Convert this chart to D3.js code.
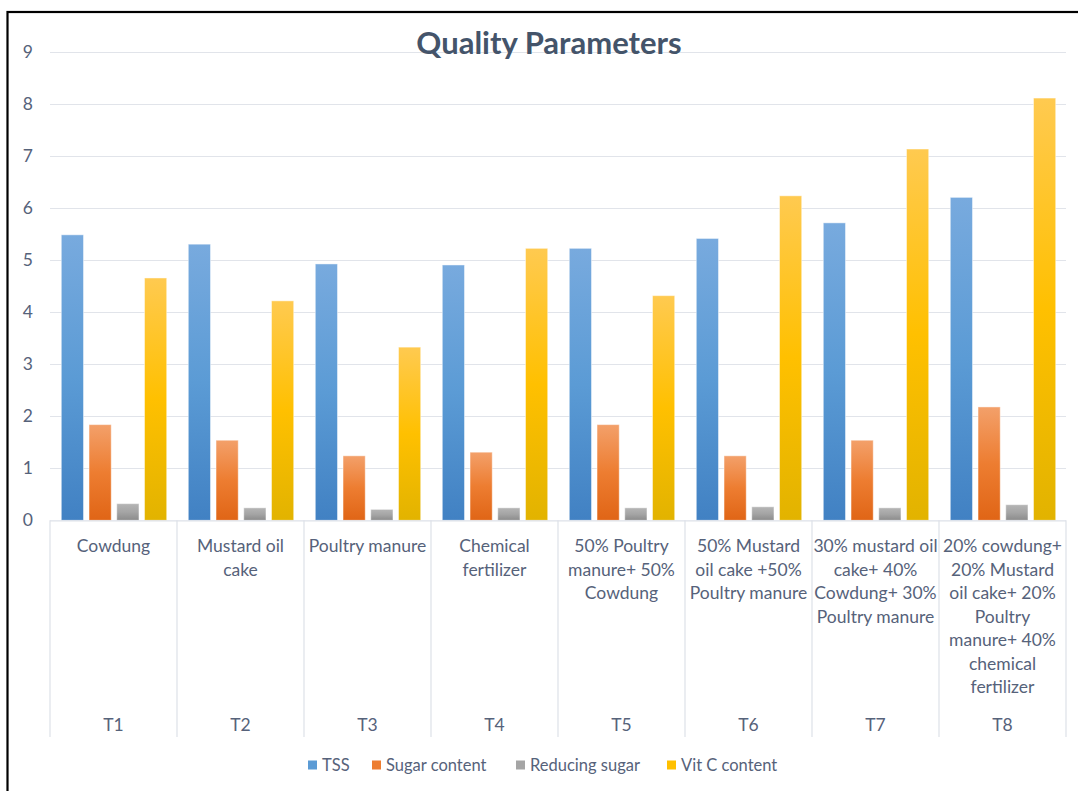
<!DOCTYPE html>
<html>
<head>
<meta charset="utf-8">
<script src="https://cdn.jsdelivr.net/npm/d3@7"></script>
<style>
  body { margin: 0; background: #fff; }
  svg { display: block; font-family: Lato, 'Liberation Sans', sans-serif; }
</style>
</head>
<body>
<div id="chart"></div>
<script>
// data
const groups = ['T1', 'T2', 'T3', 'T4', 'T5', 'T6', 'T7', 'T8']
const treatments = [
  ['Cowdung'],
  ['Mustard oil', 'cake'],
  ['Poultry manure'],
  ['Chemical', 'fertilizer'],
  ['50% Poultry', 'manure+ 50%', 'Cowdung'],
  ['50% Mustard', 'oil cake +50%', 'Poultry manure'],
  ['30% mustard oil', 'cake+ 40%', 'Cowdung+ 30%', 'Poultry manure'],
  ['20% cowdung+', '20% Mustard', 'oil cake+ 20%', 'Poultry', 'manure+ 40%', 'chemical', 'fertilizer']
]
const seriesNames = ['TSS', 'Sugar content', 'Reducing sugar', 'Vit C content']
const tss = [5.49, 5.31, 4.93, 4.91, 5.23, 5.42, 5.72, 6.21]
const sugar = [1.84, 1.54, 1.24, 1.31, 1.84, 1.24, 1.54, 2.18]
const reducing = [0.32, 0.24, 0.21, 0.24, 0.24, 0.26, 0.24, 0.30]
const vitC = [4.66, 4.22, 3.33, 5.23, 4.32, 6.24, 7.14, 8.12]
const yTicks = [0, 1, 2, 3, 4, 5, 6, 7, 8, 9]

const seriesValues = [tss, sugar, reducing, vitC]
const colors = [
  ['#78aade', '#5b9bd5', '#4181c3'],
  ['#f3a06a', '#ed7d31', '#e06516'],
  ['#b5b5b5', '#a5a5a5', '#8b8b8b'],
  ['#ffca50', '#ffc000', '#e2b300']
]
const textColor = '#56627a'

const W = 1078
const H = 791
const plot = { left: 50, right: 1066, top: 52.3, bottom: 520.3 }

const svg = d3.select('#chart')
  .append('svg')
  .attr('width', W)
  .attr('height', H)

// gradients for the bars
const defs = svg.append('defs')
colors.forEach(function (c, i) {
  const g = defs.append('linearGradient')
    .attr('id', 'grad' + i)
    .attr('x1', 0).attr('y1', 0).attr('x2', 0).attr('y2', 1)
  g.append('stop').attr('offset', '0%').attr('stop-color', c[0])
  g.append('stop').attr('offset', '50%').attr('stop-color', c[1])
  g.append('stop').attr('offset', '100%').attr('stop-color', c[2])
})

// outer frame
svg.append('rect')
  .attr('x', 7.5).attr('y', 12)
  .attr('width', 1100).attr('height', 800)
  .attr('fill', '#fff')
  .attr('stroke', '#000')
  .attr('stroke-width', 2.2)

// scales
const y = d3.scaleLinear().domain([0, 9]).range([plot.bottom, plot.top])
const x0 = d3.scaleBand().domain(groups).range([plot.left, plot.right]).padding(0)
const x1 = d3.scaleBand().domain(seriesNames).range([11.3, 116.7]).paddingInner(0.2)

// gridlines
svg.append('g')
  .selectAll('line')
  .data(yTicks.slice(1))
  .enter()
  .append('line')
  .attr('x1', plot.left).attr('x2', plot.right)
  .attr('y1', function (d) { return Math.round(y(d)) + 0.5 })
  .attr('y2', function (d) { return Math.round(y(d)) + 0.5 })
  .attr('stroke', '#e1e4ea')
  .attr('stroke-width', 1.2)

// y axis labels
const yAxis = svg.append('g')
  .attr('transform', 'translate(' + (plot.left - 17) + ',0)')
  .call(d3.axisLeft(y).tickValues(yTicks).tickSize(0).tickPadding(0).tickFormat(d3.format('d')))
yAxis.select('.domain').remove()
yAxis.selectAll('text')
  .attr('fill', textColor)
  .style('font-size', '17.5px')
  .style('font-family', 'Lato, sans-serif')

// title
svg.append('text')
  .attr('x', 549)
  .attr('y', 54)
  .attr('text-anchor', 'middle')
  .attr('fill', '#44546a')
  .style('font-size', '31px')
  .style('font-weight', 'bold')
  .text('Quality Parameters')

// bars
const rows = groups.map(function (g, i) {
  return { group: g, values: seriesNames.map(function (s, j) { return { key: s, idx: j, value: seriesValues[j][i] } }) }
})

svg.append('g')
  .selectAll('g')
  .data(rows)
  .enter()
  .append('g')
  .attr('transform', function (d) { return 'translate(' + x0(d.group) + ',0)' })
  .selectAll('rect')
  .data(function (d) { return d.values })
  .enter()
  .append('rect')
  .attr('x', function (d) { return x1(d.key) })
  .attr('y', function (d) { return y(d.value) })
  .attr('width', x1.bandwidth())
  .attr('height', function (d) { return y(0) - y(d.value) })
  .attr('fill', function (d) { return 'url(#grad' + d.idx + ')' })
  .attr('stroke', 'rgba(255,255,255,0.45)')
  .attr('stroke-width', 1)

// baseline and category dividers
const axisColor = '#dde1e8'
svg.append('line')
  .attr('x1', plot.left).attr('x2', plot.right)
  .attr('y1', plot.bottom + 0.5).attr('y2', plot.bottom + 0.5)
  .attr('stroke', axisColor).attr('stroke-width', 1.2)

const dividers = groups.map(function (g) { return x0(g) }).concat([plot.right])
svg.append('g')
  .selectAll('line')
  .data(dividers)
  .enter()
  .append('line')
  .attr('x1', function (d) { return d }).attr('x2', function (d) { return d })
  .attr('y1', plot.bottom).attr('y2', 737)
  .attr('stroke', axisColor).attr('stroke-width', 1.2)

// category labels (two levels)
const labels = svg.append('g')
  .attr('fill', textColor)
  .style('font-size', '17.5px')
  .attr('text-anchor', 'middle')

treatments.forEach(function (lines, i) {
  const cx = x0(groups[i]) + x0.bandwidth() / 2
  const t = labels.append('text')
  t.selectAll('tspan')
    .data(lines)
    .enter()
    .append('tspan')
    .attr('x', cx)
    .attr('y', function (d, k) { return 546 + k * 23.5 })
    .attr('dy', '0.35em')
    .text(function (d) { return d })
  labels.append('text')
    .attr('x', cx)
    .attr('y', 725)
    .attr('dy', '0.35em')
    .text(groups[i])
})

// legend
const legendX = [308, 372, 516, 667]
const legend = svg.append('g')
  .selectAll('g')
  .data(seriesNames)
  .enter()
  .append('g')
  .attr('transform', function (d, i) { return 'translate(' + legendX[i] + ',765)' })
legend.append('rect')
  .attr('x', 0).attr('y', -4.5)
  .attr('width', 9).attr('height', 9)
  .attr('fill', function (d, i) { return colors[i][1] })
legend.append('text')
  .attr('x', 14)
  .attr('dy', '0.35em')
  .attr('fill', textColor)
  .style('font-size', '16.5px')
  .text(function (d) { return d })
</script>
</body>
</html>
